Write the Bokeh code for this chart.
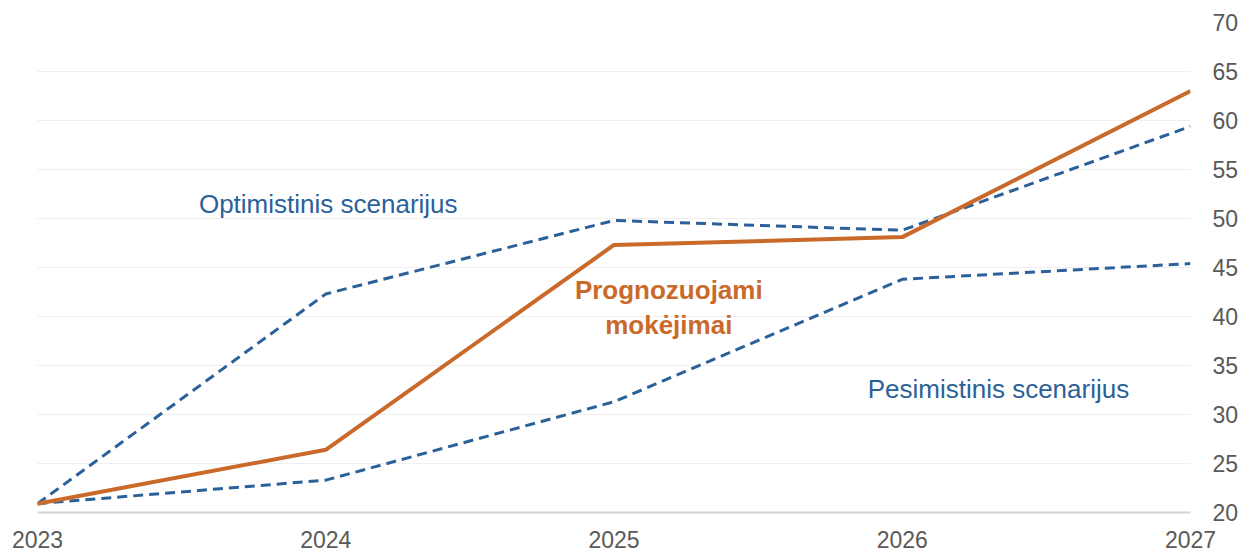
from bokeh.plotting import figure
from bokeh.models import Range1d, LinearAxis, FixedTicker, ColumnDataSource
from bokeh.core.properties import value
from bokeh.embed import file_html
from bokeh.resources import INLINE

years = [2023, 2024, 2025, 2026, 2027]
forecast = [20.9, 26.4, 47.3, 48.1, 63.0]
optimistic = [20.9, 42.3, 49.8, 48.8, 59.4]
pessimistic = [20.9, 23.3, 31.3, 43.8, 45.4]
y_ticks = [20, 25, 30, 35, 40, 45, 50, 55, 60, 65, 70]

FONT = "Liberation Sans"
BLUE = "#2B6199"
ORANGE = "#C96A2B"
GRAY = "#595959"

p = figure(width=1241, height=552, output_backend="svg", toolbar_location=None,
           x_range=Range1d(2023, 2027), y_range=Range1d(20, 70),
           y_axis_location=None, min_border_left=37, min_border_right=40,
           min_border_top=22, min_border_bottom=40)
p.outline_line_color = None
p.background_fill_color = "white"
p.border_fill_color = "white"

# x axis
p.xaxis.ticker = FixedTicker(ticks=years)
p.xaxis.major_tick_line_color = None
p.xaxis.minor_tick_line_color = None
p.xaxis.axis_line_color = "#d4d4d4"
p.xaxis.axis_line_width = 2
p.xaxis.major_label_text_font = FONT
p.xaxis.major_label_text_font_size = "23px"
p.xaxis.major_label_text_color = GRAY
p.xaxis.major_label_standoff = 12

# right y axis
ay = LinearAxis(ticker=FixedTicker(ticks=y_ticks))
ay.axis_line_color = None
ay.major_tick_line_color = None
ay.minor_tick_line_color = None
ay.major_label_text_font = FONT
ay.major_label_text_font_size = "23px"
ay.major_label_text_color = GRAY
ay.major_label_standoff = 16
p.add_layout(ay, "right")

p.xgrid.grid_line_color = None
p.ygrid.ticker = FixedTicker(ticks=y_ticks[1:])
p.ygrid.grid_line_color = "#dcdcdc"
p.ygrid.grid_line_dash = "1 1"
p.ygrid.grid_line_width = 1

src = ColumnDataSource(dict(x=years, f=forecast, o=optimistic, pz=pessimistic))
p.line("x", "o", source=src, line_color=BLUE, line_width=3, line_dash="10 6")
p.line("x", "pz", source=src, line_color=BLUE, line_width=3, line_dash="10 6")
p.line("x", "f", source=src, line_color=ORANGE, line_width=4)

p.text(x=[2023.56], y=[51.5], text=["Optimistinis scenarijus"],
       text_font=value(FONT), text_font_size="26px", text_color=BLUE,
       text_align="left", text_baseline="middle")
p.text(x=[2025.88], y=[32.65], text=["Pesimistinis scenarijus"],
       text_font=value(FONT), text_font_size="26px", text_color=BLUE,
       text_align="left", text_baseline="middle")
p.text(x=[2025.19, 2025.19], y=[42.75, 39.1], text=["Prognozuojami", "mokėjimai"],
       text_font=value(FONT), text_font_size="26px", text_font_style="bold",
       text_color=ORANGE, text_align="center", text_baseline="middle")

open("out.html", "w").write(file_html(p, INLINE))
